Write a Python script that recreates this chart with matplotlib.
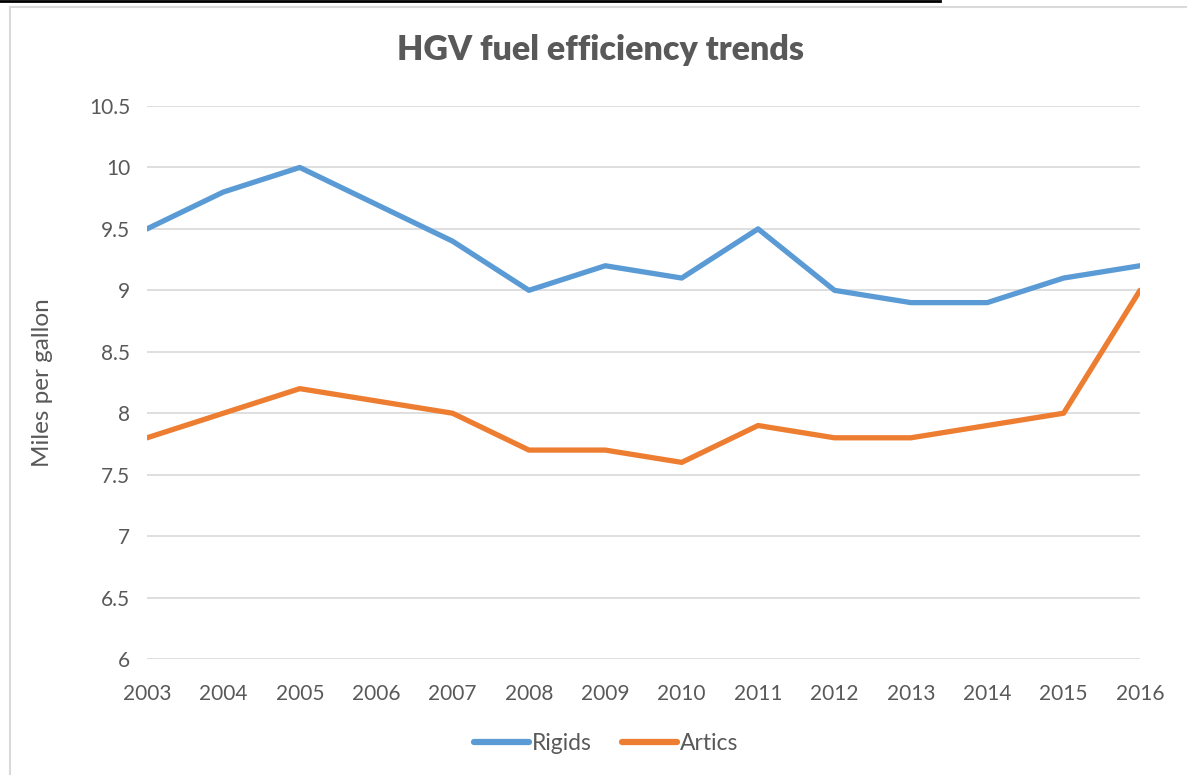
import matplotlib.pyplot as plt
from matplotlib.patches import Rectangle
from matplotlib.lines import Line2D

years = [2003, 2004, 2005, 2006, 2007, 2008, 2009, 2010, 2011, 2012, 2013, 2014, 2015, 2016]
rigids = [9.5, 9.8, 10.0, 9.7, 9.4, 9.0, 9.2, 9.1, 9.5, 9.0, 8.9, 8.9, 9.1, 9.2]
artics = [7.8, 8.0, 8.2, 8.1, 8.0, 7.7, 7.7, 7.6, 7.9, 7.8, 7.8, 7.9, 8.0, 9.0]
yticks = [6, 6.5, 7, 7.5, 8, 8.5, 9, 9.5, 10, 10.5]

plt.rcParams['font.family'] = ['Lato', 'DejaVu Sans']
txt = '#595959'

fig = plt.figure(figsize=(11.87, 7.75), dpi=100)
ax = fig.add_axes([147 / 1187, 116 / 775, (1140 - 147) / 1187, (659 - 106) / 775])

# chart frame and the black line on top
fig.patches.append(Rectangle((10 / 1187, -0.01), 1.1, (775 - 7) / 775 + 0.01,
                             transform=fig.transFigure, fill=False,
                             edgecolor='#d9d9d9', linewidth=1.5))
fig.lines.append(Line2D([0, 940 / 1187], [1 - 1 / 775, 1 - 1 / 775],
                        transform=fig.transFigure, color='black', linewidth=2))

ax.plot(years, rigids, color='#5B9BD5', linewidth=3.8, label='Rigids',
        solid_capstyle='round', solid_joinstyle='round')
ax.plot(years, artics, color='#ED7D31', linewidth=3.8, label='Artics',
        solid_capstyle='round', solid_joinstyle='round')

ax.set_xlim(2003, 2016)
ax.set_ylim(6, 10.5)
ax.set_xticks(years)
ax.set_xticklabels([str(y) for y in years])
ax.set_yticks(yticks)
ax.set_yticklabels([f'{v:g}' for v in yticks])
ax.grid(axis='y', color='#d9d9d9', linewidth=1.2)
ax.set_axisbelow(True)
for s in ax.spines.values():
    s.set_visible(False)
ax.tick_params(length=0, labelsize=15, colors=txt, pad=12)
ax.tick_params(axis='x', pad=18)

ax.set_ylabel('Miles per gallon', fontsize=17.5, color=txt, labelpad=26)
fig.text(601 / 1187, 1 - 50 / 775, 'HGV fuel efficiency trends', ha='center', va='center',
         fontsize=24.5, fontweight='heavy', color=txt)

leg = fig.legend(loc='center', bbox_to_anchor=(606 / 1187, 1 - 744 / 775), ncol=2,
                 frameon=False, fontsize=16.5, handlelength=2.4, columnspacing=1.3,
                 handletextpad=0.15)
for t in leg.get_texts():
    t.set_color(txt)
for h in leg.legend_handles:
    h.set_linewidth(4.5)

fig.savefig('out.png', dpi=100)
